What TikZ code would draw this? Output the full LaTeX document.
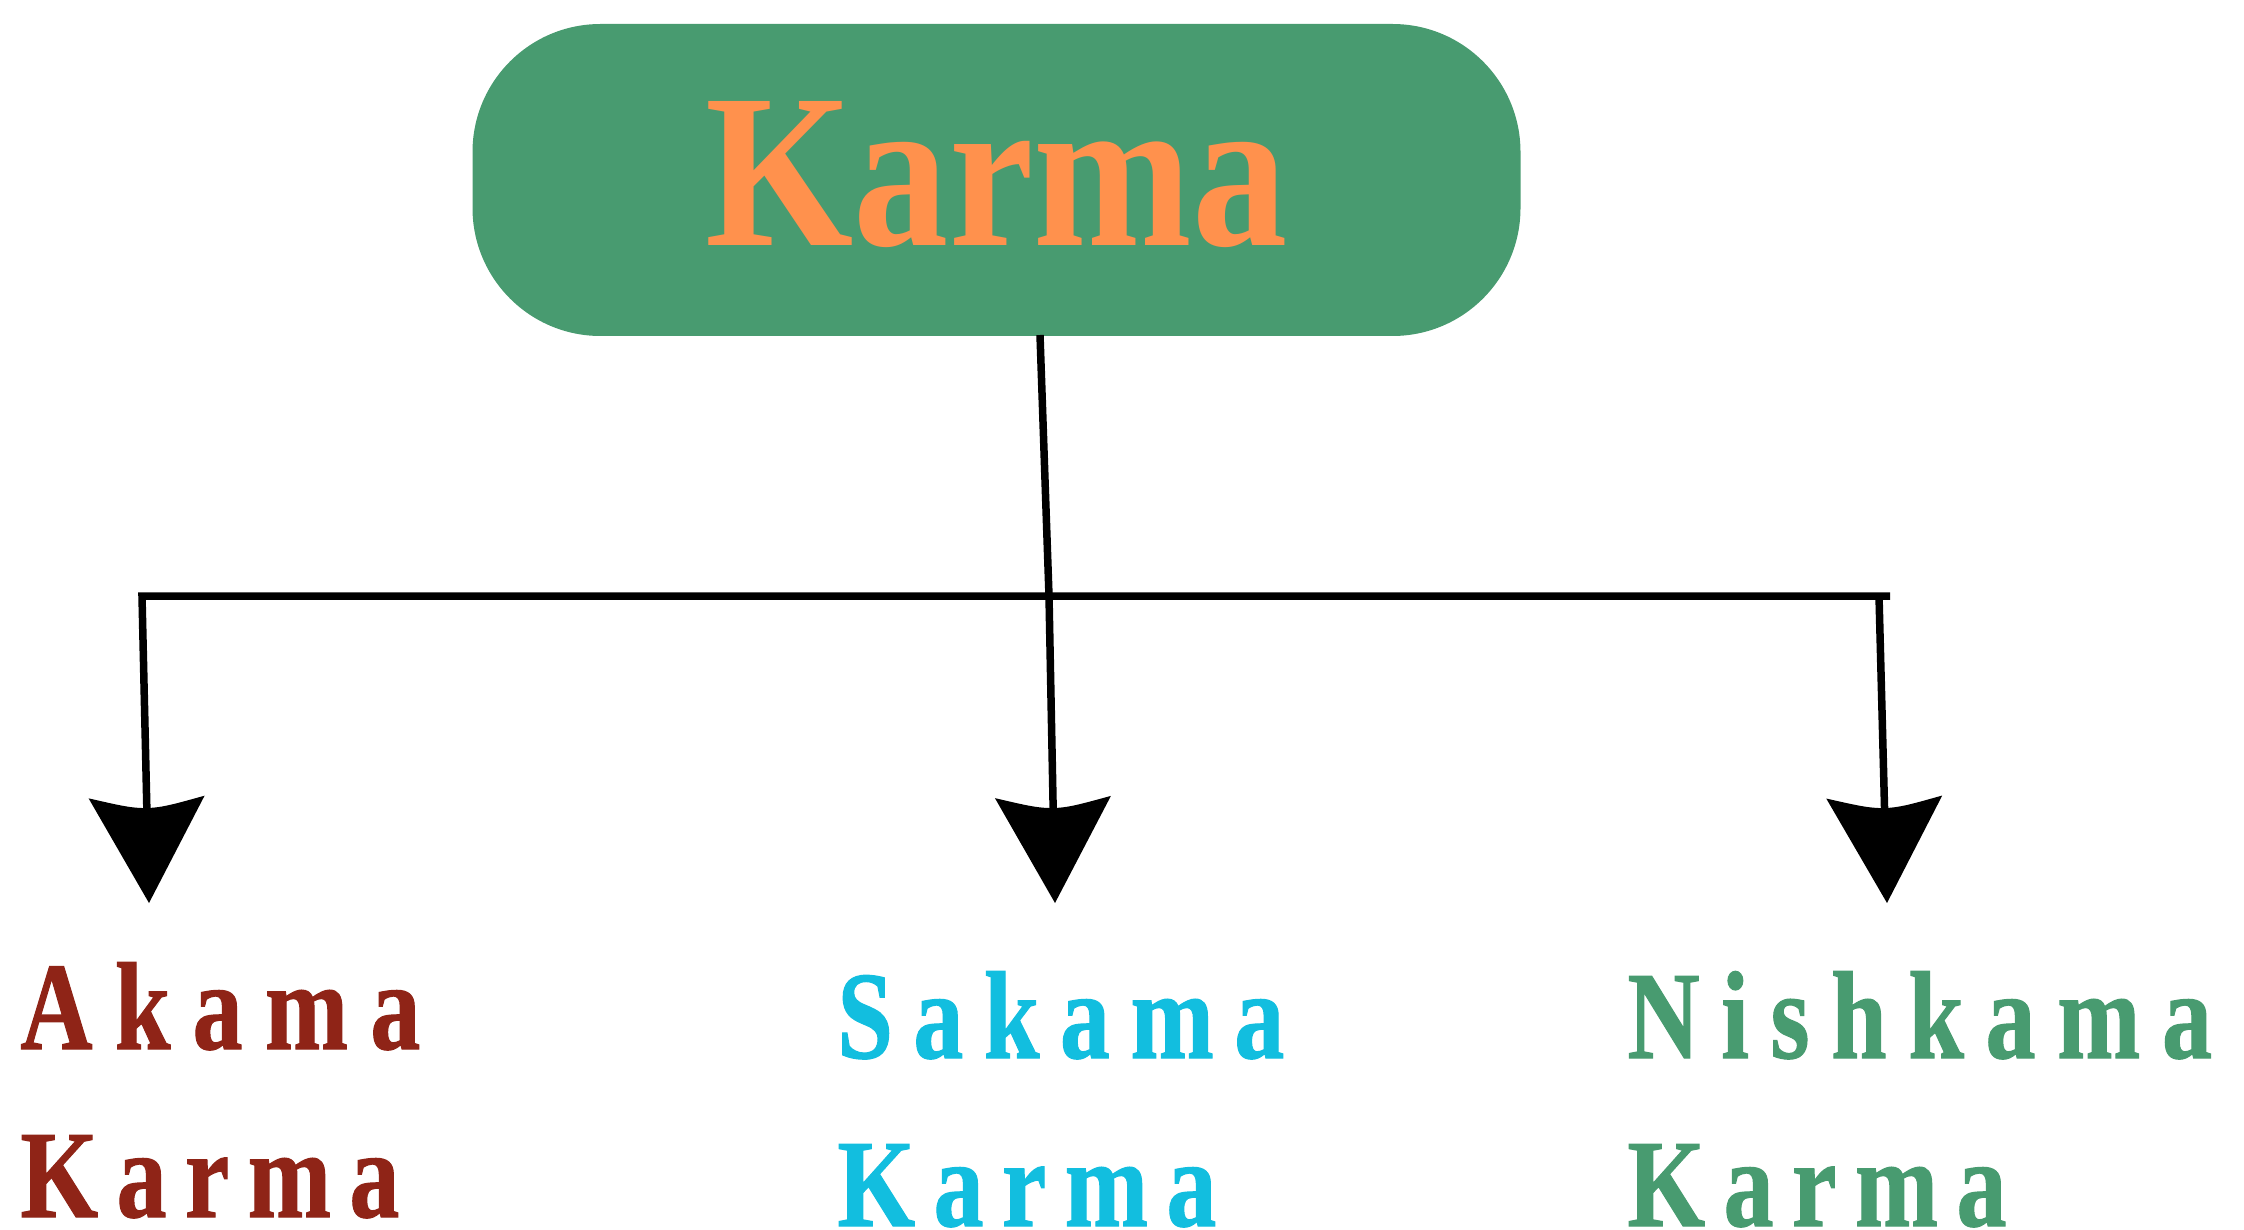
\documentclass[tikz,border=0pt]{standalone}
\usepackage{fontspec}
\usepackage{graphicx}
\setmainfont{Liberation Serif}
\usetikzlibrary{arrows.meta}

\definecolor{boxgreen}{HTML}{489B70}
\definecolor{karmaorange}{HTML}{FF914D}
\definecolor{akamared}{HTML}{8F2417}
\definecolor{sakamacyan}{HTML}{12BEDF}
\definecolor{nishgreen}{HTML}{489B70}

% letter-spaced word: \spreadword{gap}{letters}
\makeatletter
\newcommand\spreadword[2]{%
  \def\spread@gap{\kern#1}\let\spread@sep\relax
  \@tfor\spread@ch:=#2\do{\spread@sep\spread@ch\let\spread@sep\spread@gap}}
\makeatother
\newcommand\lab[2][13.5pt]{\scalebox{0.8}[1]{\spreadword{#1}{#2}}}

% filled arrow head with a concave, curved back
\pgfdeclarearrow{
  name = CurvedStealth,
  setup code = {
    \pgfarrowssettipend{0pt}
    \pgfarrowssetlineend{-40pt}
    \pgfarrowssetvisualbackend{-47.5pt}
    \pgfarrowssetbackend{-53pt}
    \pgfarrowshullpoint{0pt}{0pt}
    \pgfarrowsupperhullpoint{-53pt}{29pt}
  },
  drawing code = {
    \pgfpathmoveto{\pgfqpoint{0pt}{0pt}}
    \pgfpathlineto{\pgfqpoint{-53pt}{29pt}}
    \pgfpathcurveto{\pgfqpoint{-49.5pt}{15pt}}{\pgfqpoint{-47.5pt}{8pt}}{\pgfqpoint{-47.5pt}{0pt}}
    \pgfpathcurveto{\pgfqpoint{-47.5pt}{-8pt}}{\pgfqpoint{-49.5pt}{-15pt}}{\pgfqpoint{-53pt}{-29pt}}
    \pgfpathclose
    \pgfusepathqfill
  }
}

\tikzset{
  rootbox/.style={draw=none, fill=boxgreen, rounded corners=64pt,
    minimum width=524pt, minimum height=156pt, inner sep=0pt,
    text height=66pt, text depth=0pt, text=karmaorange,
    font=\fontsize{110pt}{110pt}\selectfont\bfseries},
  leaf/.style={anchor=base west, inner sep=0pt, align=left,
    font=\fontsize{62.5pt}{84pt}\selectfont\bfseries\addfontfeatures{FakeBold=1}},
  link/.style={line width=3.75pt, black, line join=miter},
  tip/.style={link, -CurvedStealth}
}

\begin{document}
\begin{tikzpicture}[x=0.5pt, y=-0.5pt]
  \useasboundingbox (0,0) rectangle (2244,1230);

  % root
  \node[rootbox] (karma) at (996.5,180) {\scalebox{0.866}[1]{Karma}};

  % children (anchored at the baseline of their second line)
  \node[leaf, text=akamared]   (akama)    at (20,1217)
    {\lab[13.9pt]{Akama}\\\lab[11.5pt]{Karma}};
  \node[leaf, text=sakamacyan] (sakama)   at (837,1226)
    {\lab[12.8pt]{Sakama}\\\lab[11.5pt]{Karma}};
  \node[leaf, text=nishgreen]  (nishkama) at (1627,1226)
    {\lab{Nishkama}\\\lab[11.5pt]{Karma}};

  % branching points and arrow ends
  \coordinate (top)   at (1040,335);
  \coordinate (mid)   at (1049,596);
  \coordinate (left)  at (142,596);
  \coordinate (right) at (1879,596);
  \coordinate (rend)  at (1890,596);
  \coordinate (ltip)  at (149,903);
  \coordinate (mtip)  at (1055,903);
  \coordinate (rtip)  at (1887,903);

  \draw[link] (top) -- (mid);
  \draw[tip] (rend) -- (left) -- (ltip);
  \draw[tip] (mid) -- (mtip);
  \draw[tip] (right) -- (rtip);
\end{tikzpicture}
\end{document}
